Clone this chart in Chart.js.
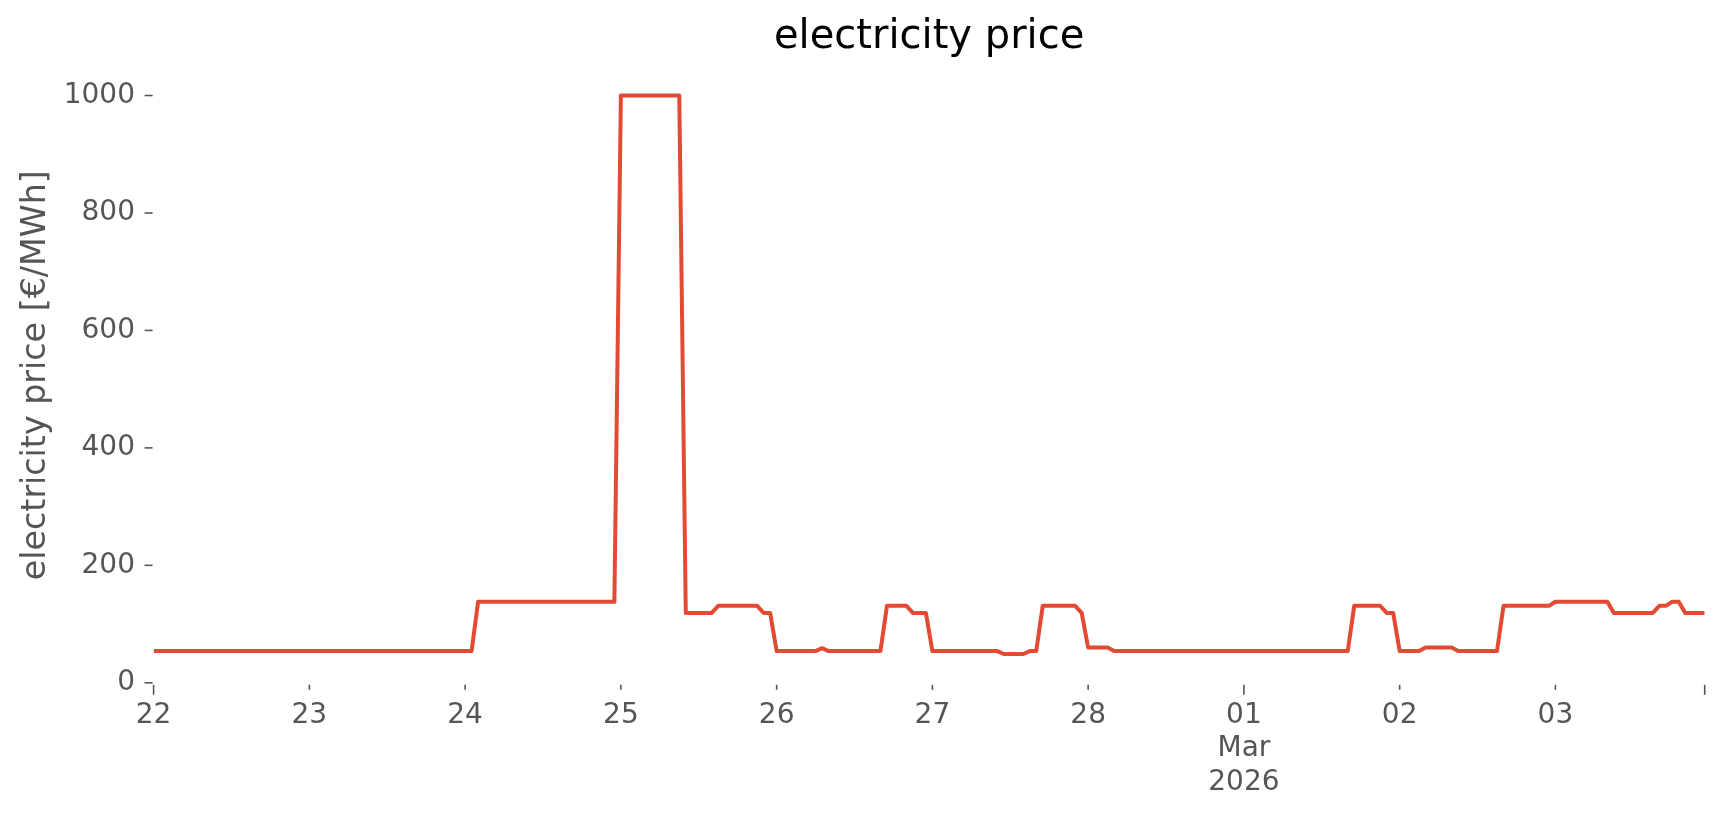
<!DOCTYPE html>
<html>
<head>
<meta charset="utf-8">
<title>electricity price</title>
<script src="https://cdn.jsdelivr.net/npm/chart.js@4.4.1/dist/chart.umd.min.js"></script>
<style>
    html, body { margin: 0; padding: 0; background: #ffffff; }
    canvas { display: block; }
</style>
</head>
<body>
<canvas id="priceChart" width="1724" height="815"></canvas>
<script>
// hourly prices [EUR/MWh], 22 Feb 2026 00:00 .. 03 Mar 2026 23:00, one row per day
const prices = [
    54, 54, 54, 54, 54, 54, 54, 54, 54, 54, 54, 54, 54, 54, 54, 54, 54, 54, 54, 54, 54, 54, 54, 54,
    54, 54, 54, 54, 54, 54, 54, 54, 54, 54, 54, 54, 54, 54, 54, 54, 54, 54, 54, 54, 54, 54, 54, 54,
    54, 54, 138, 138, 138, 138, 138, 138, 138, 138, 138, 138, 138, 138, 138, 138, 138, 138, 138, 138, 138, 138, 138, 138,
    1000, 1000, 1000, 1000, 1000, 1000, 1000, 1000, 1000, 1000, 119, 119, 119, 119, 119, 131, 131, 131, 131, 131, 131, 131, 119, 119,
    54, 54, 54, 54, 54, 54, 54, 59, 54, 54, 54, 54, 54, 54, 54, 54, 54, 131, 131, 131, 131, 119, 119, 119,
    54, 54, 54, 54, 54, 54, 54, 54, 54, 54, 54, 49, 49, 49, 49, 54, 54, 131, 131, 131, 131, 131, 131, 119,
    60, 60, 60, 60, 54, 54, 54, 54, 54, 54, 54, 54, 54, 54, 54, 54, 54, 54, 54, 54, 54, 54, 54, 54,
    54, 54, 54, 54, 54, 54, 54, 54, 54, 54, 54, 54, 54, 54, 54, 54, 54, 131, 131, 131, 131, 131, 119, 119,
    54, 54, 54, 54, 60, 60, 60, 60, 60, 54, 54, 54, 54, 54, 54, 54, 131, 131, 131, 131, 131, 131, 131, 131,
    138, 138, 138, 138, 138, 138, 138, 138, 138, 119, 119, 119, 119, 119, 119, 119, 131, 131, 138, 138, 119, 119, 119, 119
];

// x ticks in hours since 22 Feb 00:00
const xTickHours = [0, 24, 48, 72, 96, 120, 144, 168, 192, 216, 239];
const xTickLabels = ['22', '23', '24', '25', '26', '27', '28', ['01', 'Mar', '2026'], '02', '03', ''];
const majorTickHours = [0, 168, 239];
const yTickValues = [0, 200, 400, 600, 800, 1000];

const FONT = 'DejaVu Sans';
const GREY = '#555555';

// matplotlib style outward tick marks
const tickMarks = {
    id: 'tickMarks',
    afterDraw(chart) {
        const ctx = chart.ctx;
        const area = chart.chartArea;
        const xScale = chart.scales.x;
        const yScale = chart.scales.y;
        ctx.save();
        ctx.strokeStyle = GREY;
        ctx.lineWidth = 1.6;
        yTickValues.forEach(v => {
            const y = yScale.getPixelForValue(v);
            ctx.beginPath();
            ctx.moveTo(area.left - 1, y);
            ctx.lineTo(area.left - 9, y);
            ctx.stroke();
        });
        xTickHours.forEach(h => {
            const x = xScale.getPixelForValue(h);
            const len = majorTickHours.includes(h) ? 10 : 5;
            ctx.beginPath();
            ctx.moveTo(x, area.bottom + 2);
            ctx.lineTo(x, area.bottom + 2 + len);
            ctx.stroke();
        });
        ctx.restore();
    }
};

const points = prices.map((p, i) => ({ x: i, y: p }));

new Chart(document.getElementById('priceChart').getContext('2d'), {
    type: 'line',
    data: {
        datasets: [{
            label: 'electricity price',
            data: points,
            borderColor: '#E24A33',
            borderWidth: 4,
            borderJoinStyle: 'round',
            pointRadius: 0,
            tension: 0,
            fill: false
        }]
    },
    options: {
        responsive: false,
        animation: false,
        devicePixelRatio: 1,
        layout: {
            padding: { left: 0, right: 19.3, top: 0, bottom: 0 }
        },
        plugins: {
            legend: { display: false },
            tooltip: { enabled: false },
            title: {
                display: true,
                fullSize: false,
                text: 'electricity price',
                color: '#000000',
                font: { family: FONT, size: 40, weight: 'normal', lineHeight: 1.2 },
                padding: { top: 14, bottom: 5.6 }
            }
        },
        scales: {
            x: {
                type: 'linear',
                min: 0,
                max: 239,
                grid: { display: false, drawTicks: false },
                border: { display: false },
                afterBuildTicks: axis => {
                    axis.ticks = xTickHours.map(v => ({ value: v }));
                },
                afterFit: axis => {
                    axis.height = 132.2;
                },
                ticks: {
                    autoSkip: false,
                    maxRotation: 0,
                    padding: 16,
                    color: GREY,
                    font: { family: FONT, size: 28, lineHeight: 1.2 },
                    callback: function(value) {
                        const i = xTickHours.indexOf(value);
                        return i >= 0 ? xTickLabels[i] : '';
                    }
                }
            },
            y: {
                min: 0,
                max: 1047.55,
                grid: { display: false, drawTicks: false },
                border: { display: false },
                afterBuildTicks: axis => {
                    axis.ticks = yTickValues.map(v => ({ value: v }));
                },
                afterFit: axis => {
                    axis.width = 153.6;
                },
                ticks: {
                    padding: 18.6,
                    color: GREY,
                    font: { family: FONT, size: 28 },
                    callback: value => String(value)
                },
                title: {
                    display: true,
                    text: 'electricity price [€/MWh]',
                    color: GREY,
                    font: { family: FONT, size: 33.3, lineHeight: 1.2 },
                    padding: { top: 16.3, bottom: 0 }
                }
            }
        }
    },
    plugins: [tickMarks]
});
</script>
</body>
</html>
